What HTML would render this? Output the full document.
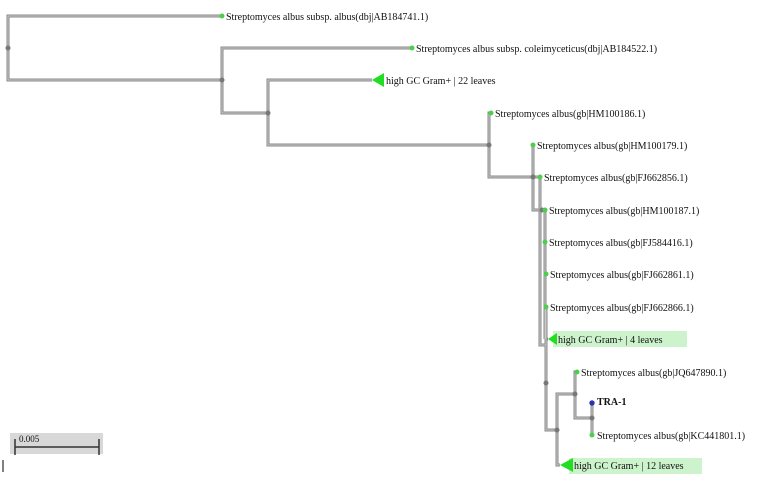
<!DOCTYPE html>
<html><head><style>
body{margin:0;background:#fff;width:762px;height:485px;overflow:hidden}
text{font-family:"Liberation Serif",serif;font-size:10px;fill:#111}
</style></head><body>
<svg width="762" height="485" xmlns="http://www.w3.org/2000/svg">
<g fill="none" stroke="#8a8a8a" stroke-width="3">
<path d="M222,16H8V80H222"/>
<path d="M412,48H222V113H268"/>
<path d="M372,80H268V145H489"/>
<path d="M491,113H489V177H533"/>
<path d="M533,145V210H542"/>
<path d="M533,177H540V345H546"/>
<path d="M542,210H545V339"/>
<path d="M546,307V430H557"/>
<path d="M548,339H546"/>
<path d="M560,465H557V394H575"/>
<path d="M577,372H575V418H592"/>
<path d="M592,403V435"/>
</g>
<g fill="none" stroke="#c8c8c8" stroke-width="1">
<path d="M222,16H8V80H222"/>
<path d="M412,48H222V113H268"/>
<path d="M372,80H268V145H489"/>
<path d="M491,113H489V177H533"/>
<path d="M533,145V210H542"/>
<path d="M533,177H540V345H546"/>
<path d="M542,210H545V339"/>
<path d="M546,307V430H557"/>
<path d="M560,465H557V394H575"/>
<path d="M577,372H575V418H592"/>
<path d="M592,403V435"/>
</g>
<g fill="#777">
<circle cx="8" cy="48" r="2.5"/><circle cx="222" cy="80" r="2.5"/><circle cx="268" cy="113" r="2.5"/>
<circle cx="489" cy="145" r="2.5"/><circle cx="533" cy="177" r="2.5"/><circle cx="542" cy="210" r="2.5"/>
<circle cx="546" cy="383" r="2.5"/><circle cx="557" cy="430" r="2.5"/><circle cx="575" cy="394" r="2.5"/><circle cx="592" cy="418" r="2.5"/>
</g>
<g fill="#4ccf4c">
<circle cx="222" cy="16" r="2.5"/><circle cx="412" cy="48" r="2.5"/><circle cx="491" cy="113" r="2.5"/>
<circle cx="533" cy="145" r="2.5"/><circle cx="540" cy="177" r="2.5"/><circle cx="545" cy="210" r="2.5"/>
<circle cx="545" cy="242" r="2.5"/><circle cx="546" cy="274" r="2.5"/><circle cx="546" cy="307" r="2.5"/>
<circle cx="577" cy="372" r="2.5"/><circle cx="592" cy="435" r="2.5"/>
</g>
<circle cx="592" cy="403" r="2.7" fill="#3030b0"/>
<rect x="553" y="331" width="134" height="16" fill="#cdf3cd"/>
<rect x="569" y="458" width="133" height="16" fill="#cdf3cd"/>
<g fill="#22dd22">
<polygon points="372,80 384,73 384,87"/>
<polygon points="548,339 557,333 557,345"/>
<polygon points="560,465 573,458 573,472"/>
</g>
<text x="226" y="20">Streptomyces albus subsp. albus(dbj|AB184741.1)</text>
<text x="416" y="52">Streptomyces albus subsp. coleimyceticus(dbj|AB184522.1)</text>
<text x="386" y="84">high GC Gram+ | 22 leaves</text>
<text x="495" y="117">Streptomyces albus(gb|HM100186.1)</text>
<text x="537" y="149">Streptomyces albus(gb|HM100179.1)</text>
<text x="544" y="181">Streptomyces albus(gb|FJ662856.1)</text>
<text x="549" y="214">Streptomyces albus(gb|HM100187.1)</text>
<text x="549" y="246">Streptomyces albus(gb|FJ584416.1)</text>
<text x="550" y="278">Streptomyces albus(gb|FJ662861.1)</text>
<text x="550" y="311">Streptomyces albus(gb|FJ662866.1)</text>
<text x="558" y="343">high GC Gram+ | 4 leaves</text>
<text x="581" y="376">Streptomyces albus(gb|JQ647890.1)</text>
<text x="597" y="405" style="font-weight:bold">TRA-1</text>
<text x="597" y="439">Streptomyces albus(gb|KC441801.1)</text>
<text x="574" y="469">high GC Gram+ | 12 leaves</text>
<rect x="10" y="433" width="93" height="21" fill="#d8d8d8"/>
<path d="M15,447H99M15,439V455M99,439V455" stroke="#333" stroke-width="1.5" fill="none"/>
<text x="19" y="442" style="font-size:9px">0.005</text>
<path d="M3,460V472" stroke="#000" stroke-width="1"/>
</svg>
</body></html>
